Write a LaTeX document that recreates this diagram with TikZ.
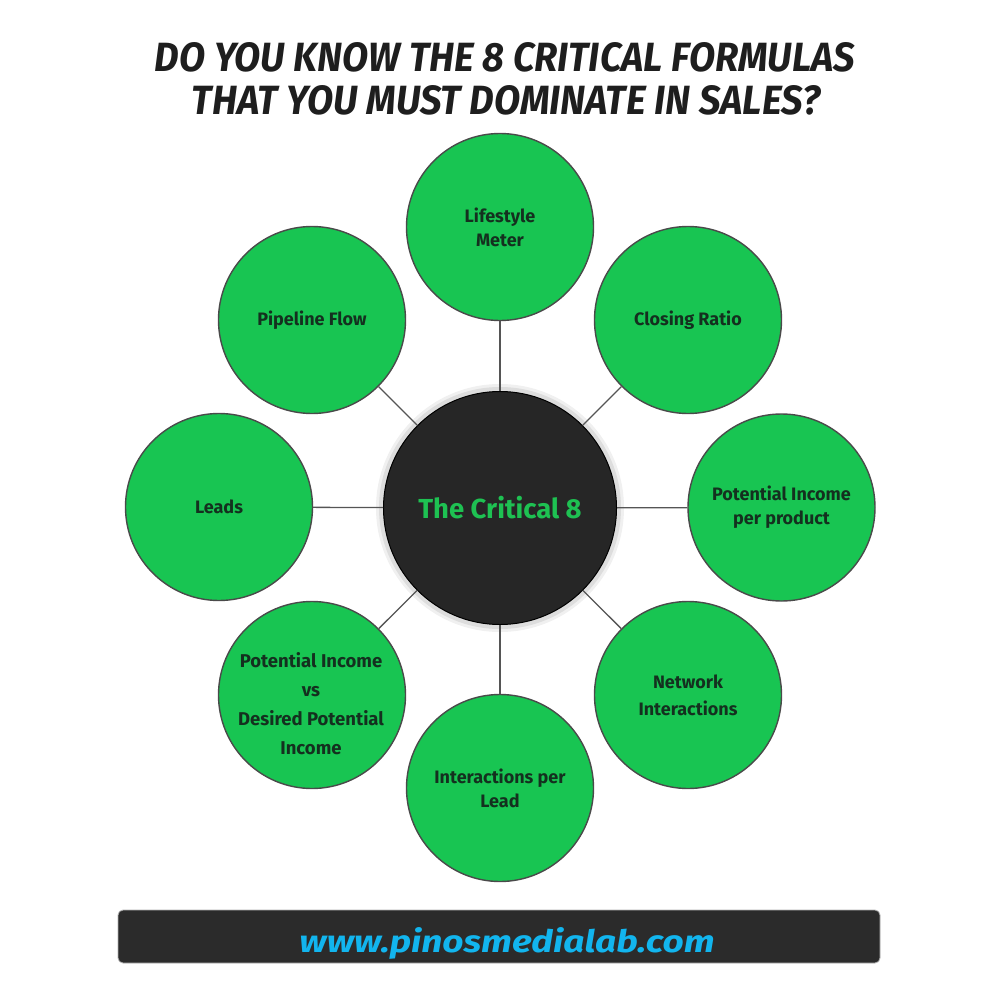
\documentclass[tikz,border=0pt]{standalone}
\usepackage{fontspec}
\setmainfont{Fira Sans}
\newfontfamily\labfont{Fira Sans}
\newfontfamily\headfont{Fira Sans}
\definecolor{leafgreen}{HTML}{18C552}
\definecolor{rimgray}{HTML}{4A4A4A}
\definecolor{linkgray}{HTML}{555555}
\definecolor{labdark}{HTML}{14301F}
\definecolor{hubfill}{HTML}{262626}
\definecolor{hubtext}{HTML}{1EC152}
\definecolor{barfill}{HTML}{2B2B2B}
\definecolor{urlblue}{HTML}{12B5EE}
\definecolor{titleink}{HTML}{1E1E1E}
\tikzset{
  leaf/.style={circle, draw=rimgray, line width=1.4pt, fill=leafgreen,
    minimum size=187pt, inner sep=0pt, align=center, text=labdark,
    font=\labfont\bfseries\fontsize{18}{24}\selectfont},
  hub/.style={circle, draw=black, line width=1pt, fill=hubfill, minimum size=233pt,
    inner sep=0pt, text=hubtext, font=\labfont\bfseries\fontsize{27.5}{30}\selectfont},
  link/.style={draw=linkgray, line width=1.3pt}
}
\begin{document}
\begin{tikzpicture}[x=1pt,y=-1pt]
\useasboundingbox (0,0) rectangle (1000,1000);
\fill[white] (0,0) rectangle (1000,1000);
% title
\node[text=titleink, anchor=base, inner sep=0pt] (t1) at (505,72)
  {\resizebox{700pt}{29pt}{\headfont\bfseries\itshape DO YOU KNOW THE 8 CRITICAL FORMULAS}};
\node[text=titleink, anchor=base, inner sep=0pt] (t2) at (506,115)
  {\resizebox{628pt}{29pt}{\headfont\bfseries\itshape THAT YOU MUST DOMINATE IN SALES?}};
% hub glow
\fill[black, opacity=0.06] (500,508) circle (124);
\fill[black, opacity=0.08] (500,508) circle (121);
% leaves
\node[leaf] (life) at (500,227) {Lifestyle\\Meter};
\node[leaf] (close) at (688,320) {Closing Ratio};
\node[leaf] (pipp) at (781.5,507.5) {Potential Income\\per product};
\node[leaf, font=\labfont\bfseries\fontsize{18}{27}\selectfont] (net) at (688,695) {Network\\Interactions};
\node[leaf] (ipl) at (500,788) {Interactions per\\Lead};
\node[leaf] (pvs) at (312,695) {};
\node[align=center, text=labdark, font=\labfont\bfseries\fontsize{18.5}{29}\selectfont] (pvstext) at (311,704)
  {Potential Income\\vs\\Desired Potential\\Income};
\node[leaf] (leads) at (219,507) {Leads};
\node[leaf] (pipe) at (312,320) {Pipeline Flow};
% hub
\node[hub] (hub) at (500,508) {The Critical 8};
% connectors
\path[link] (hub) -- (life);
\path[link] (hub) -- (close);
\path[link] (hub) -- (pipp);
\path[link] (hub) -- (net);
\path[link] (hub) -- (ipl);
\path[link] (hub) -- (pvs);
\path[link] (hub) -- (leads);
\path[link] (hub) -- (pipe);
% footer bar
\node[draw=gray!60, line width=0.8pt, fill=barfill, rounded corners=5pt,
  minimum width=762pt, minimum height=53pt, inner sep=0pt] (bar) at (499,936.5) {};
\node[text=urlblue, anchor=base, inner sep=0pt] (url) at (507,952)
  {\resizebox{415pt}{25pt}{\headfont\bfseries\itshape www.pinosmedialab.com}};
\end{tikzpicture}
\end{document}
